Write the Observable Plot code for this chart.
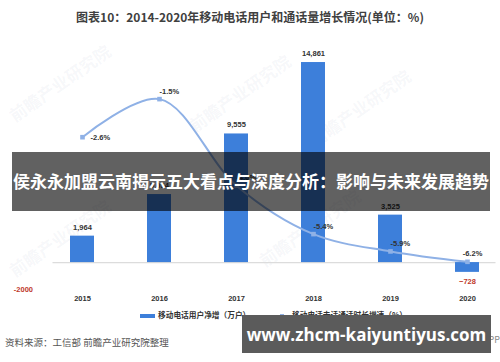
<!DOCTYPE html>
<html><head><meta charset="utf-8">
<script src="https://cdn.jsdelivr.net/npm/d3@7"></script>
<script src="https://cdn.jsdelivr.net/npm/@observablehq/plot@0.6"></script>
<style>
body{margin:0;background:#fff;font-family:"Noto Sans CJK SC","Noto Sans",sans-serif;}
#wrap{position:relative;width:500px;height:362px;overflow:hidden;background:#fff;}
#chart{position:absolute;left:0;top:0;}
.abs{position:absolute;white-space:nowrap;}
#title{left:0;width:500px;top:8px;text-align:center;font-size:12px;font-weight:bold;color:#404040;line-height:18px;}
.wm{position:absolute;font-size:17px;font-weight:bold;color:rgba(140,155,180,0.08);transform:rotate(-35deg);white-space:nowrap;}
#banner{left:12px;top:152px;width:478px;height:59px;background:rgba(0,0,0,0.62);color:#fff;font-weight:bold;font-size:17px;display:flex;align-items:center;justify-content:center;padding-bottom:3px;box-sizing:border-box;}
.legtxt{font-size:7.7px;font-weight:bold;color:#333;line-height:10px;top:310px;}
#src{left:5px;top:335px;font-size:9.5px;color:#555;line-height:14px;}
#site{left:242px;top:315px;width:249px;height:38px;background:#5b5b5b;color:#fff;font-family:"Open Sans","DejaVu Sans",sans-serif;font-weight:bold;font-size:17px;display:flex;align-items:center;justify-content:center;}
#app{right:0px;top:333px;font-size:9px;color:#888;}
</style></head><body>
<div id="wrap">
  <div class="wm" style="left:0px;top:70px;">前瞻产业研究院</div>
  <div class="wm" style="left:180px;top:80px;">前瞻产业研究院</div>
  <div class="wm" style="left:300px;top:95px;">前瞻产业研究院</div>
  <div class="wm" style="left:0px;top:225px;">前瞻产业研究院</div>
  <div class="wm" style="left:250px;top:215px;">前瞻产业研究院</div>
  <div id="chart"></div>
  <div id="title" class="abs"></div>
  <div id="banner" class="abs"></div>
  <div class="abs" style="left:140px;top:314px;width:15px;height:4px;background:#3d7fda;"></div>
  <div id="leg1" class="abs legtxt" style="left:158px;"></div>
  <div class="abs" style="left:274px;top:315px;width:16px;height:2px;background:#8fb1e6;"></div>
  <div class="abs" style="left:280px;top:314px;width:4px;height:4px;background:#8fb1e6;"></div>
  <div id="leg2" class="abs legtxt" style="left:292px;"></div>
  <div id="src" class="abs"></div>
  <div id="app" class="abs">学人APP</div>
  <div id="site" class="abs"></div>
</div>
<script>
// ---- data ----
const years = ["2015", "2016", "2017", "2018", "2019", "2020"];
const netAdds = [1964, 5054, 9555, 14861, 3525, -728];          // 移动电话用户净增（万户）
const callGrowth = [-2.6, -1.5, -4.0, -5.4, -5.9, -6.2];        // 移动电话去话通话时长增速（%）
const yTicks = [-2000];
const primaryDomain = [-2000, 16000];
const secondaryDomain = [-7, 0];
const titleText = "图表10：2014-2020年移动电话用户和通话量增长情况(单位：%)";
const legendBar = "移动电话用户净增（万户）";
const legendLine = "移动电话去话通话时长增速（%）";
const sourceText = "资料来源：工信部 前瞻产业研究院整理";
const bannerText = "侯永永加盟云南揭示五大看点与深度分析：影响与未来发展趋势";
const siteText = "www.zhcm-kaiyuntiyus.com";

document.getElementById("title").textContent = titleText;
document.getElementById("leg1").textContent = legendBar;
document.getElementById("leg2").textContent = legendLine;
document.getElementById("src").textContent = sourceText;
document.getElementById("banner").textContent = bannerText;
document.getElementById("site").textContent = siteText;

const bars = years.map((y, i) => ({year: y, v: netAdds[i]}));
const pct = years.map((y, i) => ({year: y, p: callGrowth[i]}));
// secondary axis mapped onto primary
const toPrimary = d3.scaleLinear().domain(secondaryDomain).range(primaryDomain);
const fmt = d3.format(",");
const lineColor = "#8fb1e6";
const numFont = "'Liberation Sans', Arial, sans-serif";

const chart = Plot.plot({
  width: 500,
  height: 362,
  marginTop: 46.7,
  marginBottom: 73,
  marginLeft: 52.5,
  marginRight: 4.5,
  style: {background: "transparent", fontFamily: numFont, overflow: "visible"},
  x: {type: "band", domain: years, paddingInner: 0.69, paddingOuter: 0.2, align: 0.5},
  y: {domain: primaryDomain},
  marks: [
    Plot.ruleY([0], {stroke: "#dcdcdc", strokeWidth: 1.2}),
    Plot.barY(bars, {x: "year", y: "v", fill: "#3d7fda"}),
    Plot.text(bars.filter(d => d.v >= 0), {x: "year", y: "v", text: d => fmt(d.v), dy: -9, fontSize: 7.5, fontWeight: "bold", fill: "#333"}),
    Plot.text(bars.filter(d => d.v < 0), {x: "year", y: "v", text: d => fmt(d.v), dy: 9, fontSize: 7.5, fontWeight: "bold", fill: "#c0392b"}),
    Plot.line(pct, {x: "year", y: d => toPrimary(d.p), curve: "catmull-rom", stroke: lineColor, strokeWidth: 2}),
    Plot.dot(pct, {x: "year", y: d => toPrimary(d.p), symbol: "square", r: 2.6, fill: lineColor}),
    Plot.text(pct.filter((d, i) => i === 0), {x: "year", y: d => toPrimary(d.p), text: d => d.p.toFixed(1) + "%", textAnchor: "start", dx: 8, fontSize: 7.5, fontWeight: "bold", fill: "#333"}),
    Plot.text(pct.filter((d, i) => i > 0 && i < years.length - 1), {x: "year", y: d => toPrimary(d.p), text: d => d.p.toFixed(1) + "%", textAnchor: "start", dx: 0, dy: -8, fontSize: 7.5, fontWeight: "bold", fill: "#333"}),
    Plot.text(pct.filter((d, i) => i === years.length - 1), {x: "year", y: d => toPrimary(d.p), text: d => d.p.toFixed(1) + "%", dx: 5, dy: -8, fontSize: 7.5, fontWeight: "bold", fill: "#333"}),
    Plot.axisX({tickSize: 0, tickPadding: 6, fontSize: 7.5, fontWeight: "bold", fill: "#333", label: null}),
    Plot.axisY(yTicks, {tickSize: 0, tickPadding: 20, tickFormat: d => String(d), fontSize: 7.5, fontWeight: "bold", fill: "#c0392b", label: null})
  ]
});
document.getElementById("chart").appendChild(chart);
</script>
</body></html>
